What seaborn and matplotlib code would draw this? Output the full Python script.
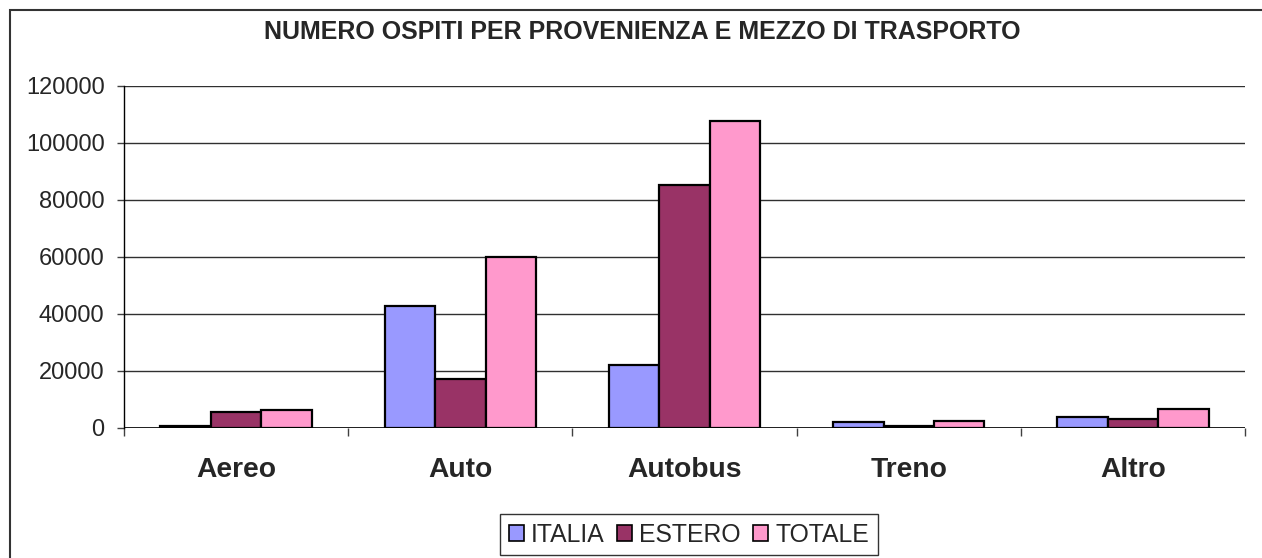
import pandas as pd
import matplotlib
matplotlib.use("Agg")
import matplotlib.pyplot as plt
from matplotlib.patches import Rectangle
import seaborn as sns

# Dati
mezzi = ["Aereo", "Auto", "Autobus", "Treno", "Altro"]
italia = [700, 42700, 22200, 2100, 3700]
estero = [5700, 17200, 85400, 800, 3000]
totale = [6400, 59900, 107800, 2400, 6500]
serie = ["ITALIA", "ESTERO", "TOTALE"]
colori = ["#9999FF", "#993366", "#FF99CC"]
y_ticks = [0, 20000, 40000, 60000, 80000, 100000, 120000]

df = pd.DataFrame({"mezzo": mezzi, "ITALIA": italia, "ESTERO": estero, "TOTALE": totale})
df = df.melt(id_vars="mezzo", var_name="provenienza", value_name="ospiti")

sns.set_style("white")
plt.rcParams["font.family"] = ["Liberation Sans", "DejaVu Sans"]

fig = plt.figure(figsize=(12.62, 5.58), dpi=100)
ax = fig.add_axes([0.0983, 0.2330, 0.8883, 0.6129])

sns.barplot(data=df, x="mezzo", y="ospiti", hue="provenienza", hue_order=serie,
            palette=colori, width=0.675, edgecolor="black", linewidth=1.6,
            saturation=1, ax=ax)

ax.set_ylim(0, 120000)
ax.set_xlim(-0.5, 4.5)
ax.set_yticks(y_ticks)
ax.set_yticklabels([str(v) for v in y_ticks], fontsize=17)
ax.yaxis.grid(True, color="#303030", linewidth=1)
ax.set_axisbelow(True)
ax.set_xlabel("")
ax.set_ylabel("")

# tick sulle separazioni delle categorie
ax.set_xticks([i - 0.5 for i in range(6)], minor=True)
ax.tick_params(axis="x", which="minor", length=6, width=1, color="#404040", direction="out", bottom=True)
ax.tick_params(axis="x", which="major", length=0, pad=21)
ax.tick_params(axis="y", length=5, width=1, color="#404040", direction="out", left=True, pad=9)
for lab in ax.get_xticklabels():
    lab.set_fontweight("bold")
    lab.set_fontsize(20.3)

for side in ["top", "right", "bottom"]:
    ax.spines[side].set_visible(False)
ax.spines["left"].set_color("black")
ax.spines["left"].set_linewidth(1)
ax.axhline(0, color="black", linewidth=1.2, zorder=5)

ax.get_legend().remove()
handles = [Rectangle((0, 0), 1, 1, facecolor=c, edgecolor="black", linewidth=1.2) for c in colori]
leg = fig.legend(handles, serie, loc="center", bbox_to_anchor=(0.546, 0.042), ncol=3,
                 fontsize=17.8, frameon=True, fancybox=False, edgecolor="black",
                 handlelength=0.6, handleheight=0.6, handletextpad=0.3,
                 columnspacing=0.5, borderpad=0.35)
leg.get_frame().set_linewidth(1)

fig.text(0.509, 0.943, "NUMERO OSPITI PER PROVENIENZA E MEZZO DI TRASPORTO",
         ha="center", va="center", fontsize=18, fontweight="bold")

# bordo esterno del grafico
fig.patches.append(Rectangle((10 / 1262, -0.1), 1.2, 1.1 - 10 / 558,
                             transform=fig.transFigure, fill=False,
                             edgecolor="#333333", linewidth=1.5))

fig.savefig("out.png", dpi=100)
